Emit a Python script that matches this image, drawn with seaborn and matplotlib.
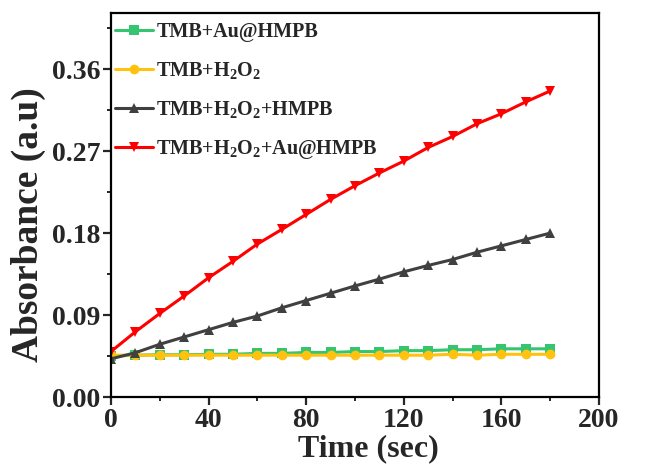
import numpy as np
import pandas as pd
import matplotlib
matplotlib.use("Agg")
import matplotlib.pyplot as plt
from matplotlib.ticker import MultipleLocator, FormatStrFormatter
import seaborn as sns

# time points (sec)
time = [0, 10, 20, 30, 40, 50, 60, 70, 80, 90, 100, 110, 120, 130, 140, 150, 160, 170, 180]

# absorbance
tmb_au_hmpb = [0.045, 0.046, 0.0465, 0.0465, 0.047, 0.047, 0.048, 0.048, 0.049, 0.049, 0.050,
               0.050, 0.051, 0.051, 0.052, 0.052, 0.053, 0.053, 0.053]
tmb_h2o2 = [0.046, 0.046, 0.046, 0.046, 0.046, 0.046, 0.046, 0.046, 0.046, 0.046, 0.046,
            0.046, 0.046, 0.046, 0.047, 0.046, 0.047, 0.047, 0.047]
tmb_h2o2_hmpb = [0.042, 0.0487, 0.058, 0.066, 0.074, 0.082, 0.089, 0.098, 0.106, 0.114, 0.122,
                 0.1295, 0.1375, 0.1445, 0.151, 0.159, 0.166, 0.173, 0.180]
tmb_h2o2_au_hmpb = [0.050, 0.0717, 0.0918, 0.111, 0.131, 0.149, 0.168, 0.184, 0.2005, 0.217, 0.232,
                    0.246, 0.259, 0.274, 0.286, 0.300, 0.311, 0.324, 0.336]

labels = ["TMB+Au@HMPB", "TMB+H$_2$O$_2$", "TMB+H$_2$O$_2$+HMPB", "TMB+H$_2$O$_2$+Au@HMPB"]
colors = ["#35C46F", "#FFC20E", "#404040", "#FF0000"]
markers = ["s", "o", "^", "v"]
series = [tmb_au_hmpb, tmb_h2o2, tmb_h2o2_hmpb, tmb_h2o2_au_hmpb]

sns.set_style("ticks")
plt.rcParams["font.family"] = ["Liberation Serif", "DejaVu Serif"]
plt.rcParams["font.weight"] = "bold"
plt.rcParams["mathtext.fontset"] = "custom"
plt.rcParams["mathtext.rm"] = "Liberation Serif:bold"
plt.rcParams["mathtext.bf"] = "Liberation Serif:bold"
plt.rcParams["mathtext.default"] = "rm"

fig = plt.figure(figsize=(6.49, 4.65), dpi=100)
ax = fig.add_axes([0.171, 0.146, 0.752, 0.826])

for lab, col, mk, vals in zip(labels, colors, markers, series):
    df = pd.DataFrame({"Time": time, "Abs": vals})
    sns.lineplot(data=df, x="Time", y="Abs", ax=ax, color=col, marker=mk,
                 markersize=7, markeredgecolor=col, markeredgewidth=0,
                 linewidth=2.2, label=lab)

ax.set_xlim(0, 200)
ax.set_ylim(0, 0.4215)
ax.xaxis.set_major_locator(MultipleLocator(40))
ax.xaxis.set_minor_locator(MultipleLocator(20))
ax.yaxis.set_major_locator(MultipleLocator(0.09))
ax.yaxis.set_minor_locator(MultipleLocator(0.045))
ax.yaxis.set_major_formatter(FormatStrFormatter("%.2f"))

ax.tick_params(which="major", length=5.8, width=1.6, labelsize=20, direction="out")
ax.tick_params(axis="x", which="major", pad=2)
ax.tick_params(axis="y", which="major", pad=2)
ax.tick_params(which="minor", length=3, width=1.4, direction="out")
for lbl in ax.get_xticklabels() + ax.get_yticklabels():
    lbl.set_fontweight("bold")
for sp in ax.spines.values():
    sp.set_linewidth(1.6)
    sp.set_color("black")

ax.set_xlabel("Time (sec)", fontsize=23, fontweight="bold")
ax.set_ylabel("Absorbance (a.u)", fontsize=27, fontweight="bold")
ax.xaxis.set_label_coords(0.527, -0.097)
ax.yaxis.set_label_coords(-0.133, 0.448)

leg = ax.legend(loc="upper left", bbox_to_anchor=(0.0, 0.987), frameon=False,
                fontsize=14.5, handlelength=1.9, labelspacing=0.9,
                borderaxespad=0.0, handletextpad=0.15, borderpad=0.2)
for t in leg.get_texts():
    t.set_fontweight("bold")

fig.savefig("out.png", dpi=100)
